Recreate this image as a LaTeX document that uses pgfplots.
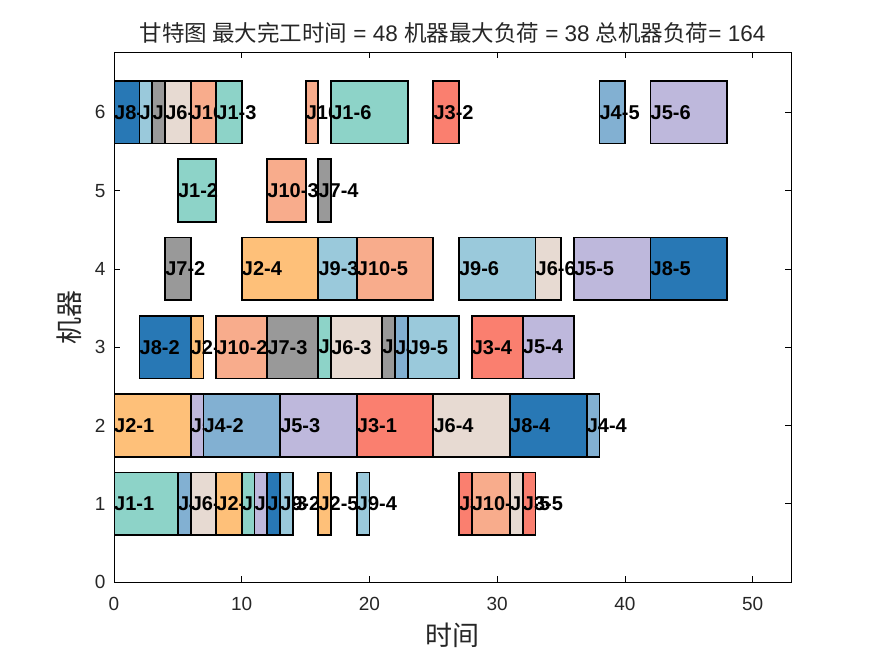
\documentclass[border=0pt]{standalone}
\usepackage{pgfplots}
\pgfplotsset{compat=1.18}
\usepackage{fontspec}
\setmainfont{Liberation Sans}
\newfontfamily\cjk{Noto Sans CJK SC}
\definecolor{c1}{HTML}{8DD3C8}
\definecolor{c2}{HTML}{FEC079}
\definecolor{c3}{HTML}{FA7F6F}
\definecolor{c4}{HTML}{82B0D2}
\definecolor{c5}{HTML}{BEB8DC}
\definecolor{c6}{HTML}{E7DAD2}
\definecolor{c7}{HTML}{999999}
\definecolor{c8}{HTML}{2878B5}
\definecolor{c9}{HTML}{9AC9DB}
\definecolor{c10}{HTML}{F8AC8C}
% #1 lo, #2 hi, #3 start, #4 end, #5 colour, #6 label
\newcommand{\gbar}[6]{%
  \addplot[fill=#5, draw=black, line width=1.8pt, line cap=rect, line join=miter, mark=none] coordinates {(#3,#1) (#4,#1) (#4,#2) (#3,#2) (#3,#1)};
  \node[anchor=west, inner sep=0pt, font=\fontsize{20}{20}\selectfont\bfseries] at (axis cs:#3,{(#1+#2)/2}) {#6};
}
\begin{document}
\begin{tikzpicture}
\begin{axis}[
  scale only axis, width=677pt, height=530pt,
  xmin=0, xmax=53, ymin=0, ymax=6.77,
  xtick={0,10,20,30,40,50}, ytick={0,1,2,3,4,5,6},
  tick align=inside, xtick pos=both, ytick pos=both,
  xticklabel pos=lower, yticklabel pos=left,
  major tick length=6pt,
  tick style={black, line width=0.6pt},
  axis line style={line width=0.6pt},
  /pgf/number format/assume math mode=true,
  ticklabel style={font=\fontsize{19}{19}\selectfont, text=black!85},
  xticklabel style={yshift=-12pt},
  yticklabel style={xshift=-5pt},
  title={{\cjk 甘特图 最大完工时间} = 48 {\cjk 机器最大负荷} = 38 {\cjk 总机器负荷}= 164},
  title style={font=\fontsize{22.5}{22.5}\selectfont, anchor=base, at={(axis description cs:0.5,1)}, yshift=4pt, text=black!85},
  xlabel={\cjk 时间}, ylabel={\cjk 机器},
  xlabel style={font=\fontsize{27}{27}\selectfont, anchor=center, at={(axis description cs:0.5,0)}, yshift=-53pt, text=black!85},
  ylabel style={font=\fontsize{27}{27}\selectfont, anchor=center, at={(axis description cs:-0.066,0.5)}, text=black!85},
]
% Machine 6
\gbar{5.6}{6.4}{0}{2}{c8}{J8-1}
\gbar{5.6}{6.4}{2}{3}{c9}{J9-1}
\gbar{5.6}{6.4}{3}{4}{c7}{J7-1}
\gbar{5.6}{6.4}{4}{6}{c6}{J6-1}
\gbar{5.6}{6.4}{6}{8}{c10}{J10-1}
\gbar{5.6}{6.4}{8}{10}{c1}{J1-3}
\gbar{5.6}{6.4}{15}{16}{c10}{J10-4}
\gbar{5.6}{6.4}{17}{23}{c1}{J1-6}
\gbar{5.6}{6.4}{25}{27}{c3}{J3-2}
\gbar{5.6}{6.4}{38}{40}{c4}{J4-5}
\gbar{5.6}{6.4}{42}{48}{c5}{J5-6}
% Machine 5
\gbar{4.6}{5.4}{5}{8}{c1}{J1-2}
\gbar{4.6}{5.4}{12}{15}{c10}{J10-3}
\gbar{4.6}{5.4}{16}{17}{c7}{J7-4}
% Machine 4
\gbar{3.6}{4.4}{4}{6}{c7}{J7-2}
\gbar{3.6}{4.4}{10}{16}{c2}{J2-4}
\gbar{3.6}{4.4}{16}{19}{c9}{J9-3}
\gbar{3.6}{4.4}{19}{25}{c10}{J10-5}
\gbar{3.6}{4.4}{27}{33}{c9}{J9-6}
\gbar{3.6}{4.4}{33}{35}{c6}{J6-6}
\gbar{3.6}{4.4}{36}{42}{c5}{J5-5}
\gbar{3.6}{4.4}{42}{48}{c8}{J8-5}
% Machine 3
\gbar{2.6}{3.4}{2}{6}{c8}{J8-2}
\gbar{2.6}{3.4}{6}{7}{c2}{J2-2}
\gbar{2.6}{3.4}{8}{12}{c10}{J10-2}
\gbar{2.6}{3.4}{12}{16}{c7}{J7-3}
\gbar{2.6}{3.4}{16}{17}{c1}{J1-5}
\gbar{2.6}{3.4}{17}{21}{c6}{J6-3}
\gbar{2.6}{3.4}{21}{22}{c7}{J7-5}
\gbar{2.6}{3.4}{22}{23}{c4}{J4-3}
\gbar{2.6}{3.4}{23}{27}{c9}{J9-5}
\gbar{2.6}{3.4}{28}{32}{c3}{J3-4}
\gbar{2.6}{3.4}{32}{36}{c5}{J5-4}
% Machine 2
\gbar{1.6}{2.4}{0}{6}{c2}{J2-1}
\gbar{1.6}{2.4}{6}{7}{c5}{J5-1}
\gbar{1.6}{2.4}{7}{13}{c4}{J4-2}
\gbar{1.6}{2.4}{13}{19}{c5}{J5-3}
\gbar{1.6}{2.4}{19}{25}{c3}{J3-1}
\gbar{1.6}{2.4}{25}{31}{c6}{J6-4}
\gbar{1.6}{2.4}{31}{37}{c8}{J8-4}
\gbar{1.6}{2.4}{37}{38}{c4}{J4-4}
% Machine 1
\gbar{0.6}{1.4}{0}{5}{c1}{J1-1}
\gbar{0.6}{1.4}{5}{6}{c4}{J4-1}
\gbar{0.6}{1.4}{6}{8}{c6}{J6-2}
\gbar{0.6}{1.4}{8}{10}{c2}{J2-3}
\gbar{0.6}{1.4}{10}{11}{c1}{J1-4}
\gbar{0.6}{1.4}{11}{12}{c5}{J5-2}
\gbar{0.6}{1.4}{12}{13}{c8}{J8-3}
\gbar{0.6}{1.4}{13}{14}{c9}{J9-2}
\gbar{0.6}{1.4}{16}{17}{c2}{J2-5}
\gbar{0.6}{1.4}{19}{20}{c9}{J9-4}
\gbar{0.6}{1.4}{27}{28}{c3}{J3-3}
\gbar{0.6}{1.4}{28}{31}{c10}{J10-6}
\gbar{0.6}{1.4}{31}{32}{c6}{J6-5}
\gbar{0.6}{1.4}{32}{33}{c3}{J3-5}
\end{axis}
\pgfresetboundingbox
\useasboundingbox ([xshift=-114pt,yshift=-74pt]current axis.south west) rectangle ([xshift=84pt,yshift=52pt]current axis.north east);
\end{tikzpicture}
\end{document}
